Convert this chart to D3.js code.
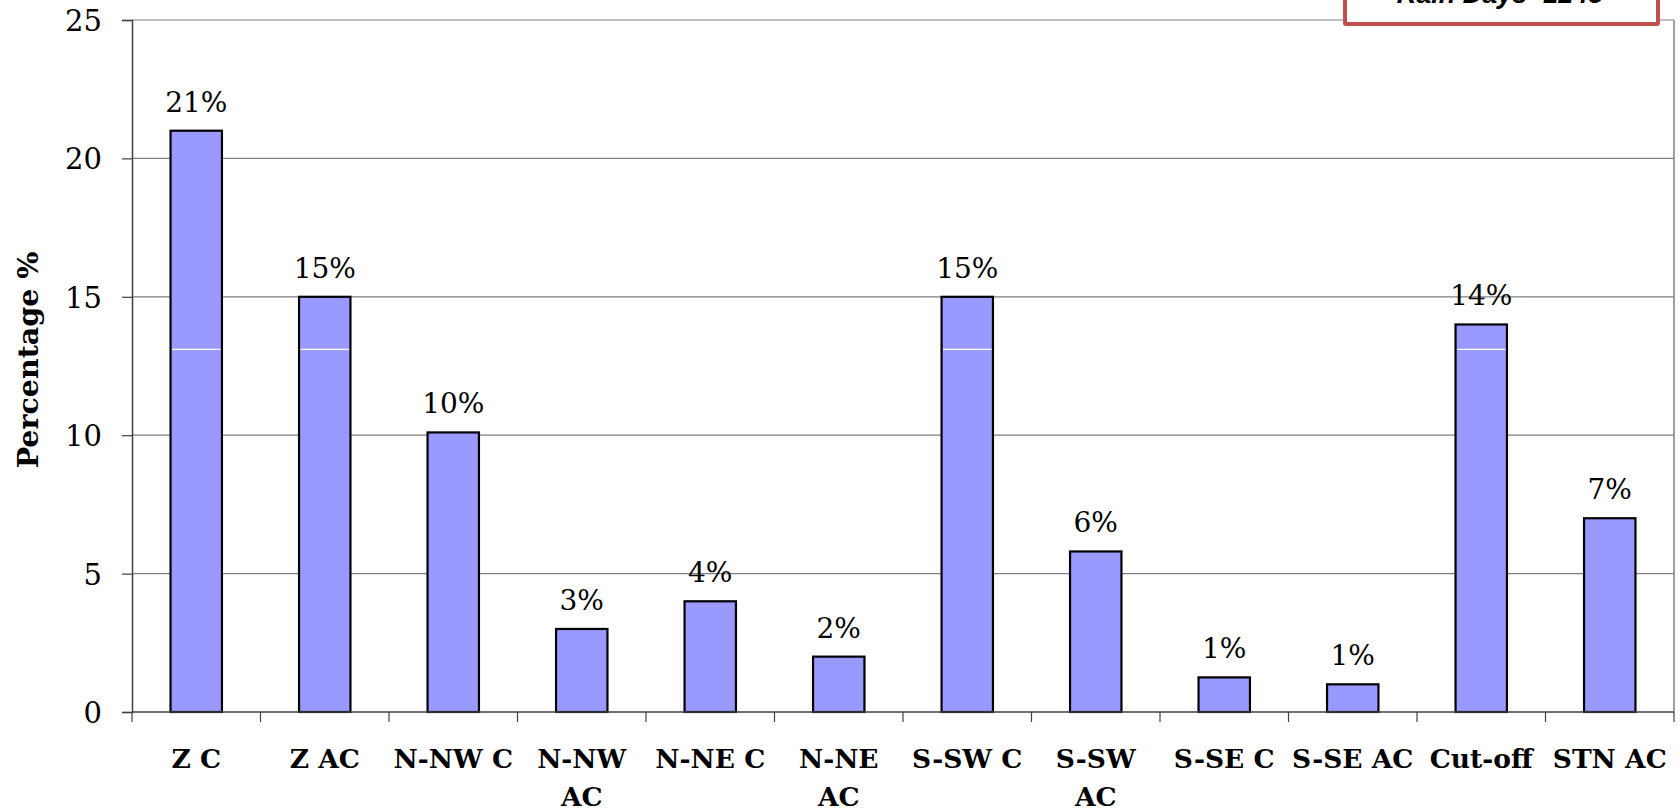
<!DOCTYPE html>
<html>
<head>
<meta charset="utf-8">
<script src="https://cdn.jsdelivr.net/npm/d3@7"></script>
<style>
  html, body { margin: 0; padding: 0; background: #fff; }
  svg { display: block; }
</style>
</head>
<body>
<svg id="chart" width="1680" height="811"></svg>
<script>
// Circulation types and their share of rain days (%)
const categories = ["Z C", "Z AC", "N-NW C", "N-NW\nAC", "N-NE C", "N-NE\nAC",
                    "S-SW C", "S-SW\nAC", "S-SE C", "S-SE AC", "Cut-off", "STN AC"];
const percentages = [21, 15, 10.1, 3, 4, 2, 15, 5.8, 1.25, 1, 14, 7];
const yTicks = [0, 5, 10, 15, 20, 25];
const boxText = "Rain Days=1245";
const innerRule = 13.1;

const svg = d3.select("#chart");
const plotLeft = 132, plotRight = 1674, plotTop = 20, plotBottom = 712;
const serif = "'DejaVu Serif', 'Liberation Serif', serif";

const x = d3.scaleBand()
  .domain(categories)
  .range([plotLeft, plotRight])
  .paddingInner(0.6)
  .paddingOuter(0.3);

const y = d3.scaleLinear().domain([0, 25]).range([plotBottom, plotTop]);

const rows = categories.map((c, i) => ({ c, v: percentages[i] }));

// horizontal gridlines
svg.append("g")
  .selectAll("line")
  .data(yTicks.filter(t => t > 0))
  .join("line")
  .attr("x1", plotLeft).attr("x2", plotRight)
  .attr("y1", d => y(d)).attr("y2", d => y(d))
  .attr("stroke", "#808080").attr("stroke-width", 1.2);

// right border
svg.append("line")
  .attr("x1", plotRight).attr("x2", plotRight)
  .attr("y1", plotTop).attr("y2", plotBottom)
  .attr("stroke", "#808080").attr("stroke-width", 1.5);

// y axis
const yAxis = svg.append("g")
  .attr("transform", `translate(${plotLeft},0)`)
  .call(d3.axisLeft(y).tickValues(yTicks).tickSize(10).tickPadding(20));
yAxis.select(".domain").attr("stroke", "#404040").attr("stroke-width", 1.5);
yAxis.selectAll(".tick line").attr("stroke", "#404040").attr("stroke-width", 1.2);
yAxis.selectAll(".tick text")
  .attr("font-family", serif).attr("font-size", 29).attr("fill", "#000")
  .attr("dy", "0.36em");

// bars
svg.append("g")
  .selectAll("rect")
  .data(rows)
  .join("rect")
  .attr("x", d => x(d.c))
  .attr("y", d => y(d.v))
  .attr("width", x.bandwidth())
  .attr("height", d => y(0) - y(d.v))
  .attr("fill", "#9999ff")
  .attr("stroke", "#000")
  .attr("stroke-width", 2.2);

// thin white rule across the taller bars
svg.append("g")
  .selectAll("line")
  .data(rows.filter(d => d.v > innerRule))
  .join("line")
  .attr("x1", d => x(d.c) + 1.5)
  .attr("x2", d => x(d.c) + x.bandwidth() - 1.5)
  .attr("y1", y(innerRule)).attr("y2", y(innerRule))
  .attr("stroke", "#fff").attr("stroke-width", 1.2);

// value labels
svg.append("g")
  .selectAll("text")
  .data(rows)
  .join("text")
  .attr("x", d => x(d.c) + x.bandwidth() / 2)
  .attr("y", d => y(d.v) - 19)
  .attr("text-anchor", "middle")
  .attr("font-family", serif).attr("font-size", 28)
  .text(d => Math.round(d.v) + "%");

// x axis with ticks between categories
const bounds = d3.range(categories.length + 1).map(i => plotLeft + i * x.step());
const xAxis = svg.append("g");
xAxis.append("line")
  .attr("x1", plotLeft).attr("x2", plotRight)
  .attr("y1", plotBottom).attr("y2", plotBottom)
  .attr("stroke", "#404040").attr("stroke-width", 1.5);
xAxis.selectAll("line.tk")
  .data(bounds)
  .join("line").attr("class", "tk")
  .attr("x1", d => d).attr("x2", d => d)
  .attr("y1", plotBottom).attr("y2", plotBottom + 10)
  .attr("stroke", "#404040").attr("stroke-width", 1.2);

// category labels
const catLabels = svg.append("g")
  .selectAll("text")
  .data(categories)
  .join("text")
  .attr("x", d => x(d) + x.bandwidth() / 2)
  .attr("y", 768)
  .attr("text-anchor", "middle")
  .attr("font-family", serif).attr("font-size", 26.5).attr("font-weight", "bold");
catLabels.selectAll("tspan")
  .data(d => d.split("\n"))
  .join("tspan")
  .attr("x", function () { return this.parentNode.getAttribute("x"); })
  .attr("dy", (d, i) => i === 0 ? 0 : 38)
  .text(d => d);

// y axis title
svg.append("text")
  .attr("transform", `translate(38,360) rotate(-90)`)
  .attr("text-anchor", "middle")
  .attr("font-family", serif).attr("font-size", 28.5).attr("font-weight", "bold")
  .text("Percentage %");

// annotation box at the top right
svg.append("rect")
  .attr("x", 1345).attr("y", -40)
  .attr("width", 313).attr("height", 64)
  .attr("fill", "#fff")
  .attr("stroke", "#c0504d").attr("stroke-width", 4)
  .attr("rx", 1);
svg.append("text")
  .attr("x", 1500).attr("y", 3)
  .attr("text-anchor", "middle")
  .attr("font-family", "'Liberation Sans', Arial, sans-serif")
  .attr("font-size", 27).attr("font-weight", "bold").attr("font-style", "italic")
  .text(boxText);
</script>
</body>
</html>
